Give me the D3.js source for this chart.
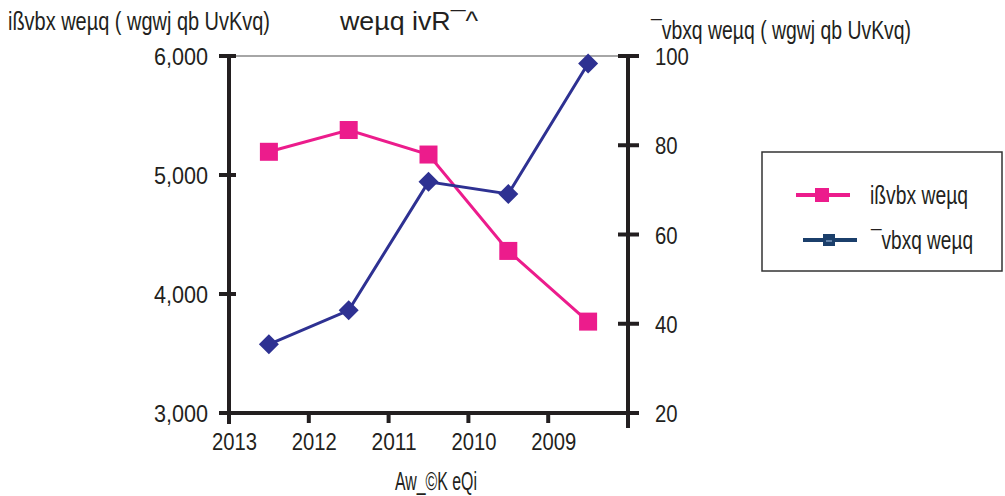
<!DOCTYPE html>
<html>
<head>
<meta charset="utf-8">
<script src="https://cdn.jsdelivr.net/npm/d3@7"></script>
<style>
  body { margin: 0; background: #fff; }
  svg text { font-family: "Liberation Sans", Arial, sans-serif; fill: #231f20; }
</style>
</head>
<body>
<svg class="chart" width="1005" height="496"></svg>
<script>
const years = ['2013', '2012', '2011', '2010', '2009']
const exportSales = [5195, 5378, 5172, 4362, 3768]
const localSales = [35.4, 43.0, 71.8, 69.1, 98.3]
const leftTicks = [3000, 4000, 5000, 6000]
const rightTicks = [20, 40, 60, 80, 100]

const titleLeft = 'ißvbx weµq ( wgwj qb UvKvq)'
const titleMid = 'weµq ivR¯^'
const titleRight = '¯vbxq weµq ( wgwj qb UvKvq)'
const xTitle = 'Aw_©K eQi'
const seriesNames = ['ißvbx weµq', '¯vbxq weµq']

const pink = '#ec1c8c'
const blue = '#2e3192'

let svg = d3.select('svg.chart')

let x = d3.scaleBand().domain(years).range([229, 628])
let yL = d3.scaleLinear().domain([3000, 6000]).range([413, 56])
let yR = d3.scaleLinear().domain([20, 100]).range([413, 56])

// squeeze text to look like the narrow face of the original
function narrow(sel, w) {
  sel.attr('textLength', w).attr('lengthAdjust', 'spacingAndGlyphs')
  return sel
}

// top frame line
svg.append('line')
    .attr('x1', 229).attr('x2', 628)
    .attr('y1', 56).attr('y2', 56)
    .attr('stroke', '#888').attr('stroke-width', 1.5)

// x axis
let xAxis = svg.append('g').attr('transform', 'translate(0,413)')
xAxis.append('line')
    .attr('x1', 222).attr('x2', 636)
    .attr('stroke', '#231f20').attr('stroke-width', 4)
xAxis.selectAll('.xt')
  .data(years)
  .enter().append('line')
    .attr('x1', d => x(d)).attr('x2', d => x(d))
    .attr('y1', 0).attr('y2', 10)
    .attr('stroke', '#231f20').attr('stroke-width', 4)
xAxis.append('line')
    .attr('x1', x.range()[1]).attr('x2', x.range()[1])
    .attr('y1', 0).attr('y2', 10)
    .attr('stroke', '#231f20').attr('stroke-width', 4)
xAxis.selectAll('.xl')
  .data(years)
  .enter().append('text')
    .attr('x', d => x(d) - 17)
    .attr('y', 37)
    .style('font-size', '23px')
    .attr('textLength', 45).attr('lengthAdjust', 'spacingAndGlyphs')
    .text(d => d)

// left axis
let left = svg.append('g')
left.append('line')
    .attr('x1', 229).attr('x2', 229)
    .attr('y1', 56).attr('y2', 424)
    .attr('stroke', '#231f20').attr('stroke-width', 4)
left.selectAll('.lt')
  .data(leftTicks)
  .enter().append('line')
    .attr('x1', 219).attr('x2', 236)
    .attr('y1', d => yL(d)).attr('y2', d => yL(d))
    .attr('stroke', '#231f20').attr('stroke-width', 4)
left.selectAll('.ll')
  .data(leftTicks)
  .enter().append('text')
    .attr('x', 154)
    .attr('y', d => yL(d) + 9)
    .style('font-size', '23px')
    .attr('textLength', 54).attr('lengthAdjust', 'spacingAndGlyphs')
    .text(d => d3.format(',')(d))

// right axis
let right = svg.append('g')
right.append('line')
    .attr('x1', 628).attr('x2', 628)
    .attr('y1', 56).attr('y2', 428)
    .attr('stroke', '#231f20').attr('stroke-width', 4)
right.selectAll('.rt')
  .data(rightTicks)
  .enter().append('line')
    .attr('x1', 618).attr('x2', 639)
    .attr('y1', d => yR(d)).attr('y2', d => yR(d))
    .attr('stroke', '#231f20').attr('stroke-width', 4)
right.selectAll('.rl')
  .data(rightTicks)
  .enter().append('text')
    .attr('x', 655)
    .attr('y', d => yR(d) + 9)
    .style('font-size', '23px')
    .attr('textLength', d => String(d).length * 11.3).attr('lengthAdjust', 'spacingAndGlyphs')
    .text(d => d)

// titles
narrow(svg.append('text').attr('x', 8).attr('y', 30).style('font-size', '25px').text(titleLeft), 262)
narrow(svg.append('text').attr('x', 340).attr('y', 30).style('font-size', '25px').text(titleMid), 138)
narrow(svg.append('text').attr('x', 651).attr('y', 39).style('font-size', '25px').text(titleRight), 260)
narrow(svg.append('text').attr('x', 395).attr('y', 490).style('font-size', '25px').text(xTitle), 82)

let cx = d => x(d) + x.bandwidth() / 2

// export series
let lineL = d3.line().x((d, i) => cx(years[i])).y(d => yL(d))
svg.append('path')
    .datum(exportSales)
    .attr('d', lineL)
    .attr('fill', 'none').attr('stroke', pink).attr('stroke-width', 3)
svg.selectAll('.ms')
  .data(exportSales)
  .enter().append('rect')
    .attr('x', (d, i) => cx(years[i]) - 9)
    .attr('y', d => yL(d) - 9)
    .attr('width', 18).attr('height', 18)
    .attr('fill', pink)

// local series
let lineR = d3.line().x((d, i) => cx(years[i])).y(d => yR(d))
svg.append('path')
    .datum(localSales)
    .attr('d', lineR)
    .attr('fill', 'none').attr('stroke', blue).attr('stroke-width', 3)
svg.selectAll('.md')
  .data(localSales)
  .enter().append('path')
    .attr('d', 'M0,-10L10,0L0,10L-10,0Z')
    .attr('transform', (d, i) => `translate(${cx(years[i])}, ${yR(d)})`)
    .attr('fill', blue)

// legend
let legend = svg.append('g')
legend.append('rect')
    .attr('x', 762).attr('y', 152)
    .attr('width', 240).attr('height', 119)
    .attr('fill', '#fff').attr('stroke', '#333').attr('stroke-width', 1.5)
legend.append('line')
    .attr('x1', 796).attr('x2', 850).attr('y1', 195).attr('y2', 195)
    .attr('stroke', pink).attr('stroke-width', 4)
legend.append('rect')
    .attr('x', 815).attr('y', 188).attr('width', 14).attr('height', 14)
    .attr('fill', pink)
narrow(legend.append('text').attr('x', 870).attr('y', 204).style('font-size', '25px').text(seriesNames[0]), 98)
legend.append('line')
    .attr('x1', 803).attr('x2', 857).attr('y1', 240).attr('y2', 240)
    .attr('stroke', '#1b3f6b').attr('stroke-width', 4)
legend.append('rect')
    .attr('x', 823).attr('y', 234).attr('width', 12).attr('height', 12)
    .attr('fill', '#1b3f6b')
legend.append('line')
    .attr('x1', 826).attr('x2', 832).attr('y1', 241).attr('y2', 241)
    .attr('stroke', '#7f9cc0').attr('stroke-width', 1.5)
narrow(legend.append('text').attr('x', 871).attr('y', 249).style('font-size', '25px').text(seriesNames[1]), 102)
</script>
</body>
</html>
